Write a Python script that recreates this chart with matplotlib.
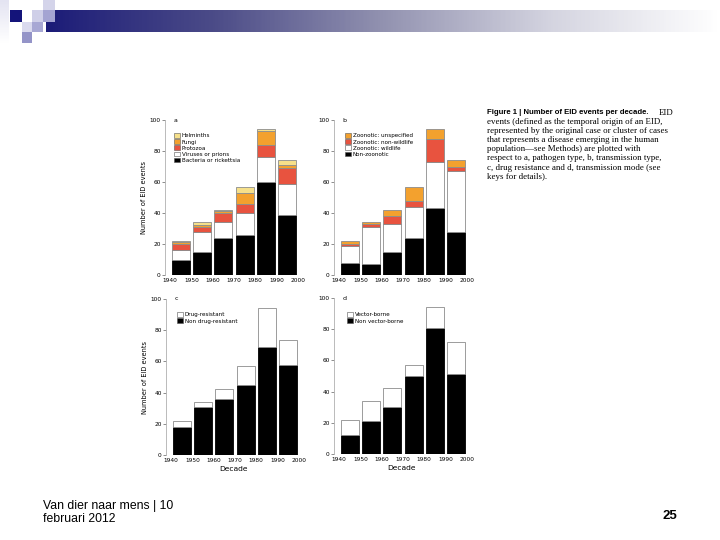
import numpy as np
import matplotlib
matplotlib.use("Agg")
import matplotlib.pyplot as plt
from matplotlib.colors import LinearSegmentedColormap
from matplotlib.patches import Rectangle, Patch

decades = [1940, 1950, 1960, 1970, 1980, 1990]
xticks = [1940, 1950, 1960, 1970, 1980, 1990, 2000]

# Panel a: pathogen type
a_bacteria = [10, 15, 24, 26, 60, 39]
a_viruses = [6, 13, 10, 14, 16, 20]
a_protozoa = [4, 3, 6, 6, 8, 10]
a_fungi = [1, 1, 1, 7, 9, 2]
a_helminths = [1, 2, 1, 4, 1, 3]

# Panel b: transmission type
b_nonzoonotic = [8, 7, 15, 24, 43, 28]
b_wildlife = [11, 24, 18, 20, 30, 39]
b_nonwildlife = [1, 2, 5, 4, 15, 3]
b_unspecified = [2, 1, 4, 9, 6, 4]

# Panel c: drug resistance
c_nondrug = [18, 31, 36, 45, 69, 58]
c_drug = [4, 3, 6, 12, 25, 16]

# Panel d: transmission mode
d_nonvector = [12, 21, 30, 50, 81, 51]
d_vector = [10, 13, 12, 7, 13, 21]

W, H = 720, 540
fig = plt.figure(figsize=(7.2, 5.4), dpi=100)
fig.patch.set_facecolor("white")

def fx(px):
    return px / W

def fy(py):
    return 1 - py / H

# ---- header decoration ----
bg = fig.add_axes([0, 0, 1, 1])
bg.axis("off")
grad_cmap = LinearSegmentedColormap.from_list(
    "hdr", [(0, "#1c1c78"), (0.25, "#4c4c88"), (0.5, "#9292b0"),
            (0.75, "#d4d4e0"), (1.0, "#ffffff")])
grad = np.linspace(0, 1, 400).reshape(1, -1)
bg.imshow(grad, cmap=grad_cmap, extent=[46, 720, 32, 10], aspect="auto", zorder=1)
lg = np.linspace(0, 1, 50).reshape(-1, 1)
bg.imshow(lg, cmap=LinearSegmentedColormap.from_list("l", ["#e4e4f2", "#ffffff"]),
          extent=[0, 9, 43, 0], aspect="auto", zorder=1)
squares = [
    (10, 10, 12, 12, "#14147a"),
    (32, 10, 11, 12, "#cfcfe8"),
    (43, 0, 12, 10, "#d4d4ea"),
    (43, 10, 12, 12, "#a4a4d2"),
    (22, 22, 10, 10, "#dadaee"),
    (32, 22, 11, 10, "#a8a8d4"),
    (22, 32, 10, 11, "#9494c8"),
]
for x0, y0, w, h, c in squares:
    bg.add_patch(Rectangle((x0, y0), w, h, color=c, lw=0, zorder=2))
bg.set_xlim(0, W)
bg.set_ylim(H, 0)

# ---- footer ----
fig.text(fx(43), fy(500), "Van dier naar mens | 10\nfebruari 2012",
         family="Liberation Sans", fontsize=8.8, va="top", ha="left",
         linespacing=1.15)
fig.text(fx(677), fy(516), "25", family="Liberation Sans", fontsize=9.5,
         fontweight="bold", va="center", ha="right")

# ---- caption ----
cap_x = fx(487)
cap_y0 = 113
cap_dy = 9.1
fig.text(cap_x, fy(cap_y0), "Figure 1 | Number of EID events per decade.",
         family="Liberation Sans", fontweight="bold", fontsize=5.6,
         va="center", ha="left")
fig.text(fx(659), fy(cap_y0), "EID", family="Liberation Serif", fontsize=6.4,
         va="center", ha="left")
cap_lines = [
    "events (defined as the temporal origin of an EID,",
    "represented by the original case or cluster of cases",
    "that represents a disease emerging in the human",
    "population\u2014see Methods) are plotted with",
    "respect to a, pathogen type, b, transmission type,",
    "c, drug resistance and d, transmission mode (see",
    "keys for details).",
]
for i, line in enumerate(cap_lines):
    fig.text(cap_x, fy(cap_y0 + (i + 1) * cap_dy), line,
             family="Liberation Serif", fontsize=6.4, va="center", ha="left")

# ---- panels ----
XLIM = (1937.6, 2001.5)
bar_w = 8.4
centers = [d + 5 for d in decades]
EDGE = "#8c8c8c"

def make_ax(left_px, y0_px, y100_px, right_px):
    ax = fig.add_axes([fx(left_px), fy(y0_px), fx(right_px - left_px),
                       (y0_px - y100_px) / H])
    ax.set_xlim(*XLIM)
    ax.set_ylim(0, 100)
    for s in ["top", "right", "bottom"]:
        ax.spines[s].set_visible(False)
    ax.spines["left"].set_color("#b0b0b0")
    ax.spines["left"].set_linewidth(0.6)
    ax.set_yticks([0, 20, 40, 60, 80, 100])
    ax.set_xticks(xticks)
    ax.set_xticklabels([str(t) for t in xticks])
    ax.tick_params(axis="y", labelsize=4.2, length=2, width=0.5, pad=1,
                   color="#606060")
    ax.tick_params(axis="x", labelsize=4.2, length=0, pad=2)
    ax.patch.set_alpha(0)
    return ax

def stack(ax, series, colors, labels):
    bottom = np.zeros(len(decades))
    handles = []
    for vals, c, lab in zip(series, colors, labels):
        ec = "black" if c == "black" else EDGE
        ax.bar(centers, vals, width=bar_w, bottom=bottom, color=c,
               edgecolor=ec, linewidth=0.6)
        bottom += np.array(vals)
        handles.append(Patch(facecolor=c, edgecolor="#555555", linewidth=0.4,
                             label=lab))
    return handles

def legend(ax, handles, x_px, y_px, left_px, y0_px, y100_px, right_px):
    bx = (x_px - left_px) / (right_px - left_px)
    by = (y0_px - y_px) / (y0_px - y100_px)
    ax.legend(handles=handles[::-1], loc="upper left", bbox_to_anchor=(bx, by),
              frameon=False, fontsize=4.1, handlelength=1.0, handleheight=0.9,
              handletextpad=0.4, labelspacing=0.15, borderpad=0, borderaxespad=0)

# a
L, B0, B100, R = 165, 275, 120, 301
ax_a = make_ax(L, B0, B100, R)
h = stack(ax_a, [a_bacteria, a_viruses, a_protozoa, a_fungi, a_helminths],
          ["black", "white", "#e8533f", "#f3a12e", "#f6e08a"],
          ["Bacteria or rickettsia", "Viruses or prions", "Protozoa", "Fungi",
           "Helminths"])
legend(ax_a, h, 174, 133, L, B0, B100, R)
ax_a.text(0.06, 1.0, "a", transform=ax_a.transAxes, fontsize=4.5, va="center")
ax_a.set_ylabel("Number of EID events", fontsize=4.8, labelpad=2)

# b
L, B0, B100, R = 334, 275, 120, 470
ax_b = make_ax(L, B0, B100, R)
h = stack(ax_b, [b_nonzoonotic, b_wildlife, b_nonwildlife, b_unspecified],
          ["black", "white", "#e8533f", "#f3a12e"],
          ["Non-zoonotic", "Zoonotic: wildlife", "Zoonotic: non-wildlife",
           "Zoonotic: unspecified"])
legend(ax_b, h, 345, 133, L, B0, B100, R)
ax_b.text(0.06, 1.0, "b", transform=ax_b.transAxes, fontsize=4.5, va="center")

# c
L, B0, B100, R = 166, 455, 299, 302
ax_c = make_ax(L, B0, B100, R)
h = stack(ax_c, [c_nondrug, c_drug], ["black", "white"],
          ["Non drug-resistant", "Drug-resistant"])
legend(ax_c, h, 177, 312, L, B0, B100, R)
ax_c.text(0.06, 1.0, "c", transform=ax_c.transAxes, fontsize=4.5, va="center")
ax_c.set_ylabel("Number of EID events", fontsize=4.8, labelpad=2)
ax_c.set_xlabel("Decade", fontsize=5.4, labelpad=2)

# d
L, B0, B100, R = 334, 454, 298, 470
ax_d = make_ax(L, B0, B100, R)
h = stack(ax_d, [d_nonvector, d_vector], ["black", "white"],
          ["Non vector-borne", "Vector-borne"])
legend(ax_d, h, 347, 312, L, B0, B100, R)
ax_d.text(0.06, 1.0, "d", transform=ax_d.transAxes, fontsize=4.5, va="center")
ax_d.set_xlabel("Decade", fontsize=5.4, labelpad=2)

fig.savefig("out.png", dpi=100)
